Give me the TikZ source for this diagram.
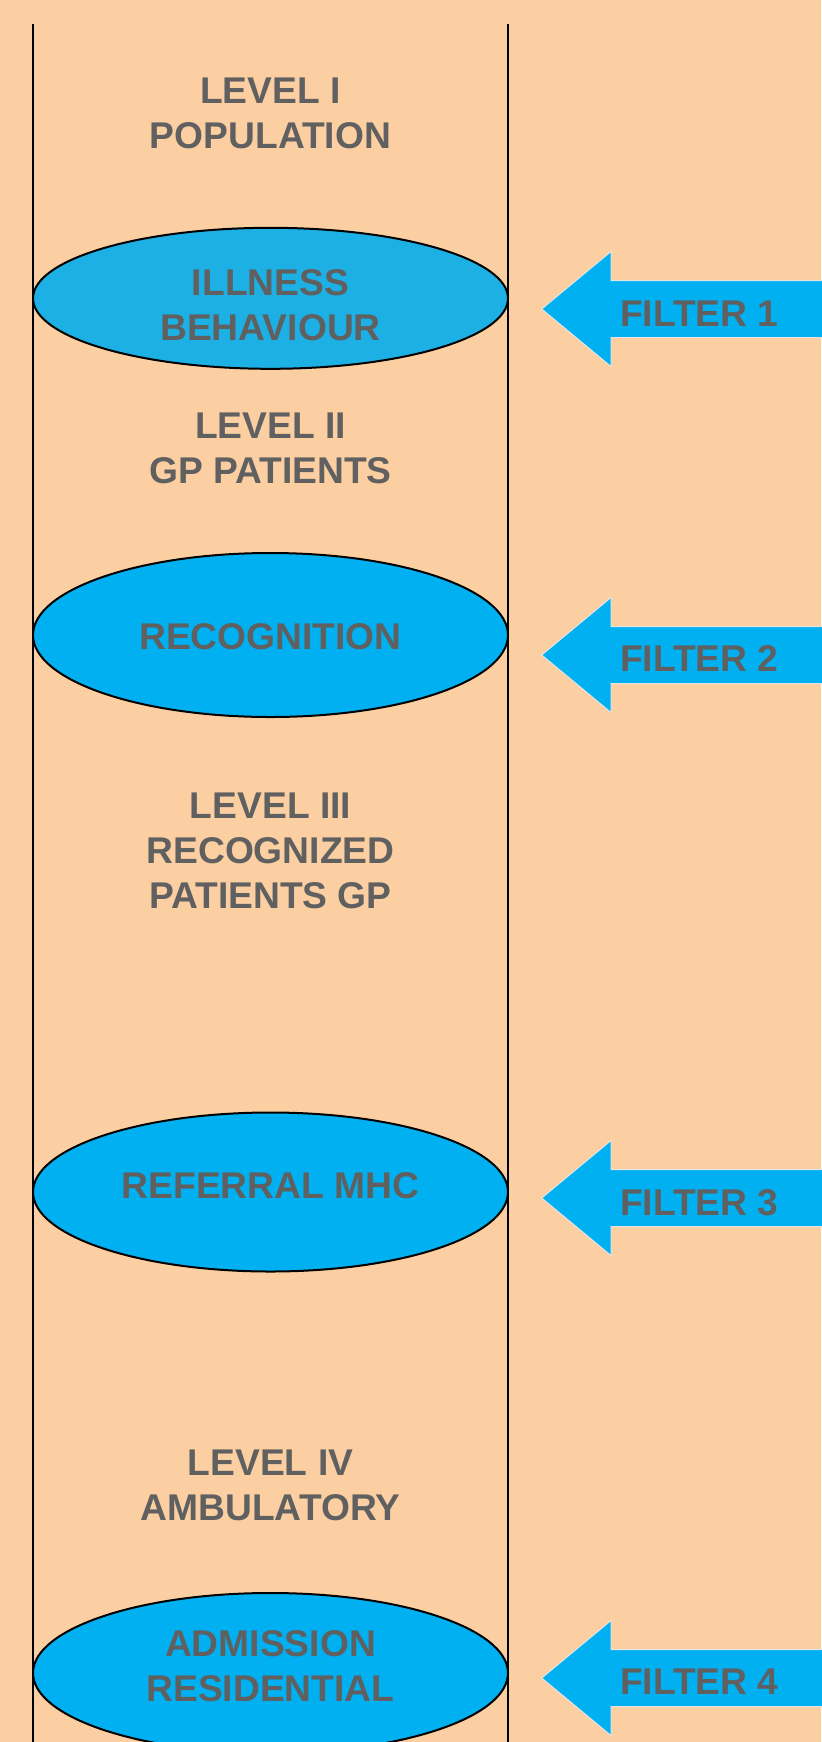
\documentclass[tikz,border=0pt]{standalone}
\usepackage{fontspec}
\setmainfont{Liberation Sans}
\usetikzlibrary{shapes.geometric}
\definecolor{peach}{HTML}{FCCFA2}
\definecolor{stageblue}{HTML}{00B0F0}
\definecolor{stagelight}{HTML}{1CB0E4}
\definecolor{txtgray}{HTML}{606060}
\definecolor{rimgray}{HTML}{E4E4E4}
\begin{document}
\begin{tikzpicture}[x=0.5pt,y=-0.5pt,
    lvltext/.style ={font=\bfseries\fontsize{18.6}{22.5}\selectfont, text=txtgray, align=center, inner sep=0pt},
    stage/.style ={ellipse, draw=black, line width=1pt, fill=stageblue, minimum width=237.5pt, inner sep=0pt},
    filter/.style ={fill=stageblue, draw=rimgray, line width=0.5pt}]
   \useasboundingbox (0,0) rectangle (821,1742);
   \fill[peach] (0,0) rectangle (821,1742);
   % the two walls of the funnel
   \coordinate (ltop) at (33,23.5);
   \coordinate (lbot) at (33,1760);
   \coordinate (rtop) at (508,23.5);
   \coordinate (rbot) at (508,1760);
   \draw[line width=1pt] (ltop) -- (lbot);
   \draw[line width=1pt] (rtop) -- (rbot);
   % levels
   \node[lvltext] (lev1) at (270.5,113)  {LEVEL I\\POPULATION};
   \node[lvltext] (lev2) at (270.5,448)  {LEVEL II\\GP PATIENTS};
   \node[lvltext] (lev3) at (270.5,851)  {LEVEL III\\RECOGNIZED\\PATIENTS GP};
   \node[lvltext] (lev4) at (270.5,1485) {LEVEL IV\\AMBULATORY};
   % filters
   \node[stage, fill=stagelight, minimum height=70.5pt] (ill) at (270.5,298.3) {};
   \node[stage, minimum height=82pt] (rec) at (270.5,635) {};
   \node[stage, minimum height=79.5pt] (ref) at (270.5,1192) {};
   \node[stage, minimum height=80pt] (adm) at (270.5,1673) {};
   \node[lvltext] (illtxt) at (270.5,305)    {ILLNESS\\BEHAVIOUR};
   \node[lvltext] (rectxt) at (270.5,636.5)  {RECOGNITION};
   \node[lvltext] (reftxt) at (270.5,1185.5) {REFERRAL MHC};
   \node[lvltext] (admtxt) at (270.5,1666)   {ADMISSION\\RESIDENTIAL};
   \foreach \y/\n/\t in {309/1/313.7, 655/2/658, 1198/3/1203, 1678/4/1682}{
     \filldraw[filter] (541.7,\y) -- (611,\y-57.5) -- (611,\y-28.5) -- (826,\y-28.5)
        -- (826,\y+28.5) -- (611,\y+28.5) -- (611,\y+57.5) -- cycle;
     \node[lvltext] (f\n) at (699.4,\t) {FILTER \n};
   }
\end{tikzpicture}
\end{document}
